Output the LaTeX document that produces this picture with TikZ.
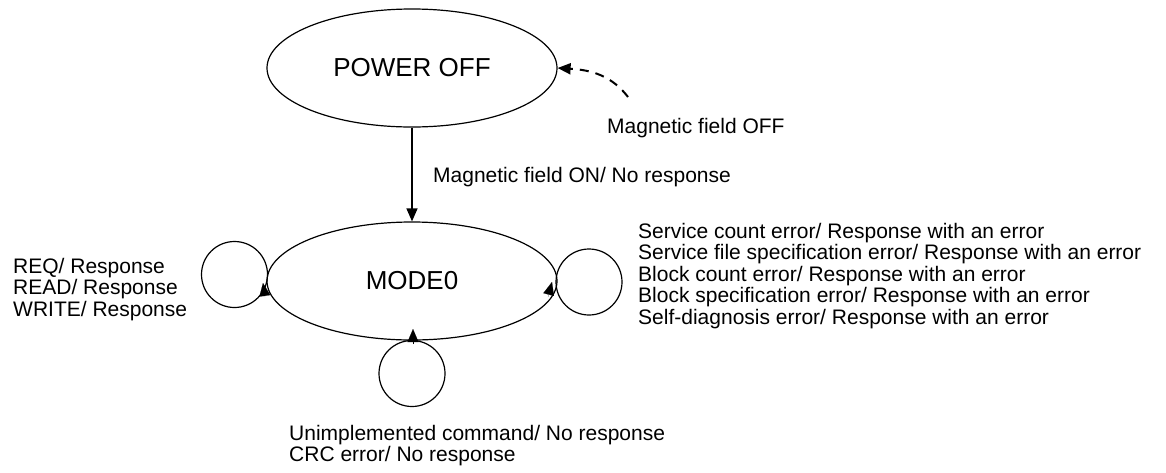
\documentclass[tikz,border=0pt]{standalone}
\usepackage{fontspec}
\setmainfont{Liberation Sans}
\usetikzlibrary{shapes.geometric,arrows.meta}
\begin{document}
\begin{tikzpicture}[x=1pt,y=-1pt,
  state/.style={draw,line width=1.2pt,ellipse,minimum width=290pt,minimum height=118pt,inner sep=0pt,font=\fontsize{26}{26}\selectfont},
  loopc/.style={draw,line width=1.2pt,circle,minimum size=66pt,inner sep=0pt},
  lbl/.style={anchor=base west,inner sep=0pt,font=\fontsize{21}{21}\selectfont},
  tip/.style={-{Triangle[length=13pt,width=11pt]}},
  conn/.style={line width=1.3pt}]
\useasboundingbox (0,0) rectangle (1166,472);
\node[state] (po) at (412,68) {POWER OFF};
\node[state] (m) at (412,281) {MODE0};
\node[loopc] (cl) at (234.5,274.5) {};
\node[loopc] (cr) at (589,282) {};
\node[loopc] (cb) at (412,373.5) {};
% transitions
\draw[conn,tip] (po.south) -- (m.north);
\coordinate (dstart) at (628,97);
\draw[line width=2pt,dash pattern=on 9pt off 7pt,tip] (dstart) .. controls (612,76) and (592,70) .. (po.east);
% loop arrowheads
\coordinate (la) at (265,297);
\coordinate (lb) at (263,283);
\draw[tip,line width=0.1pt] (la) -- (lb);
\coordinate (ra) at (548,297);
\coordinate (rb) at (552,282);
\draw[tip,line width=0.1pt] (ra) -- (rb);
\coordinate (ba) at (413,344);
\coordinate (bb) at (413,329);
\draw[tip,line width=0.1pt] (ba) -- (bb);
% labels
\node[lbl] (loff) at (607,133) {Magnetic field OFF};
\node[lbl] (lon) at (433,182) {Magnetic field ON/ No response};
\node[lbl] (lleft) at (13,273) {\begin{tabular}[t]{@{}l@{}}REQ/ Response\\READ/ Response\\WRITE/ Response\end{tabular}};
\node[lbl] (lright) at (638,238) {\begin{tabular}[t]{@{}l@{}}Service count error/ Response with an error\\Service file specification error/ Response with an error\\Block count error/ Response with an error\\Block specification error/ Response with an error\\Self-diagnosis error/ Response with an error\end{tabular}};
\node[lbl] (lbot) at (289,440) {\begin{tabular}[t]{@{}l@{}}Unimplemented command/ No response\\CRC error/ No response\end{tabular}};
\end{tikzpicture}
\end{document}
